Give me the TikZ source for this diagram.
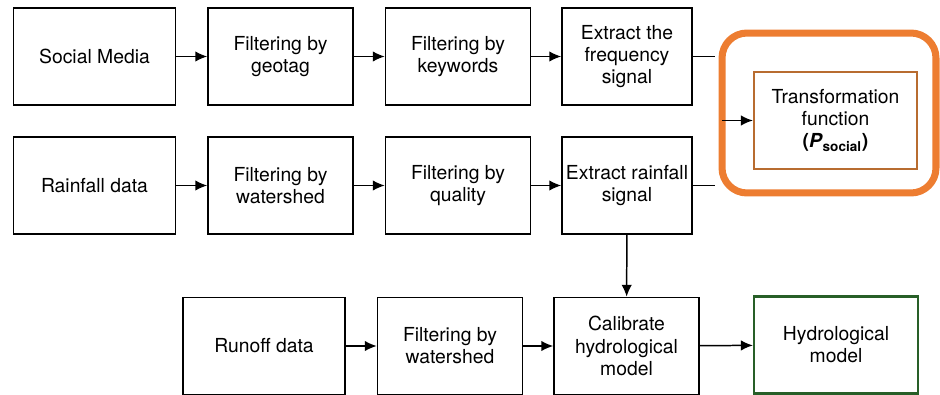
\documentclass[tikz,border=0pt]{standalone}
\usepackage{fontspec}
\setmainfont{TeX Gyre Heros}
\usetikzlibrary{arrows.meta}
\definecolor{hlorange}{RGB}{237,125,49}
\definecolor{tfbrown}{RGB}{184,108,48}
\definecolor{hydgreen}{RGB}{40,95,40}

\begin{document}
\begin{tikzpicture}[x=0.02cm,y=-0.02cm,>={Latex[length=2.4mm,width=2.1mm]},
  box/.style={draw,line width=0.85pt,align=center,minimum height=1.94cm,
    font=\fontsize{11}{12.6}\selectfont,inner sep=1pt},
  wide/.style={box,minimum width=3.24cm},
  mid/.style={box,minimum width=2.9cm},
  narrow/.style={box,minimum width=2.6cm},
  link/.style={->,line width=0.85pt}]
  \useasboundingbox (0,0) rectangle (940,395);
  \node[wide] (social) at (94.5,56.5) {Social Media};
  \node[mid] (geotag) at (280.5,56.5) {Filtering by\\geotag};
  \node[mid] (keyword) at (458,56.5) {Filtering by\\keywords};
  \node[narrow] (freq) at (627,56.5) {Extract the\\frequency\\signal};
  \node[wide] (rain) at (94.5,185.5) {Rainfall data};
  \node[mid] (shed) at (280.5,185.5) {Filtering by\\watershed};
  \node[mid] (quality) at (458,185.5) {Filtering by\\quality};
  \node[narrow] (rsignal) at (627,185.5) {Extract rainfall\\signal};
  \node[wide] (runoff) at (264,346) {Runoff data};
  \node[mid] (shedb) at (450,346) {Filtering by\\watershed};
  \node[mid] (calib) at (626.5,346) {Calibrate\\hydrological\\model};
  \node[box,minimum width=3.28cm,draw=hydgreen,line width=1.3pt] (hydro) at (836,345) {Hydrological\\model};
  \node[box,minimum width=3.26cm,draw=tfbrown,line width=1.3pt] (transf) at (835.5,120.5)
    {Transformation\\function\\\textbf{(\textit{P}\textsubscript{social})}};
  \node[draw=hlorange,line width=4pt,rounded corners=0.5cm,minimum width=4.28cm,
    minimum height=3.2cm] (focus) at (829,113) {};
  \draw[link] (social) -- (geotag);
  \draw[link] (geotag) -- (keyword);
  \draw[link] (keyword) -- (freq);
  \draw[link] (rain) -- (shed);
  \draw[link] (shed) -- (quality);
  \draw[link] (quality) -- (rsignal);
  \draw[link] (runoff) -- (shedb);
  \draw[link] (shedb) -- (calib);
  \draw[link] (calib) -- (hydro);
  \draw[link] (rsignal) -- (calib);
  \draw[line width=0.85pt,shorten >=2pt] (freq.east) -- (freq.east -| focus.west);
  \draw[line width=0.85pt,shorten >=2pt] (rsignal.east) -- (rsignal.east -| focus.west);
  \draw[link,shorten <=2pt] (focus.west |- transf.west) -- (transf.west);
\end{tikzpicture}
\end{document}
